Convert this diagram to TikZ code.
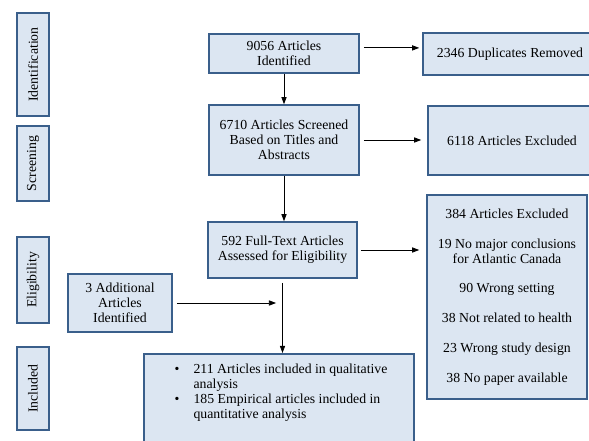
\documentclass[tikz,border=0pt]{standalone}
\usepackage{fontspec}
\setmainfont{Liberation Serif}
\usepackage{xcolor}
\usepackage{tikz}
\usetikzlibrary{positioning,arrows.meta,calc}
\definecolor{boxfill}{HTML}{DCE6F2}
\definecolor{boxline}{HTML}{3A5F8B}

\begin{document}
\begin{tikzpicture}[
    box/.style={draw=boxline, line width=1.1pt, fill=boxfill, align=center, inner sep=2pt,
      font=\fontsize{9.8pt}{10.6pt}\selectfont},
    stage/.style={box, rotate=90, minimum height=0.8cm},
    arrow/.style={-{Triangle[length=1.8mm,width=1.3mm]}, line width=0.6pt},
  ]
  \useasboundingbox (0,0) rectangle (14.725,-11);

  % Stages
  \node[stage, minimum width=2.575cm] (sid) at (0.825,-1.6125) {Identification};
  \node[stage, minimum width=1.875cm] (ssc) at (0.825,-4.0875) {Screening};
  \node[stage, minimum width=2.15cm] (sel) at (0.825,-7.0) {Eligibility};
  \node[stage, minimum width=2.075cm] (sin) at (0.825,-9.7125) {Included};

  % Identification
  \node[box, minimum width=3.75cm, minimum height=0.975cm] (ident) at (7.1,-1.3375) {%
    9056 Articles\\Identified};
  \node[box, minimum width=4.35cm, minimum height=1.05cm] (dup) at (12.75,-1.35) {%
    2346 Duplicates Removed};

  % Screening
  \node[box, minimum width=3.75cm, minimum height=1.75cm] (screen) at (7.1,-3.5) {%
    6710 Articles Screened\\Based on Titles and\\Abstracts};
  \node[box, minimum width=4.2cm, minimum height=1.725cm] (excl1) at (12.8,-3.5125) {%
    6118 Articles Excluded};

  % Eligibility
  \node[box, minimum width=3.725cm, minimum height=1.4cm] (elig) at (7.0625,-6.25) {%
    592 Full-Text Articles\\Assessed for Eligibility};
  \node[box, minimum width=4.0cm, minimum height=5.1cm] (excl2) at (12.675,-7.425) {%
    384 Articles Excluded\\[10.6pt]
    19 No major conclusions\\for Atlantic Canada\\[10.6pt]
    90 Wrong setting\\[10.6pt]
    38 Not related to health\\[10.6pt]
    23 Wrong study design\\[10.6pt]
    38 No paper available};
  \node[box, minimum width=2.6cm, minimum height=1.45cm] (add) at (3.0,-7.575) {%
    3 Additional\\Articles\\Identified};

  % Included
  \node[box, minimum width=6.75cm, minimum height=3cm, anchor=north] (incl) at (6.975,-8.825) {};
  \node[anchor=north west, inner sep=0pt, font=\fontsize{9.8pt}{10.6pt}\selectfont]
    (incltext) at ([xshift=0.78cm,yshift=-0.24cm]incl.north west) {%
    \begin{tabular}{@{}l@{\hspace{10pt}}l@{}}
      \textbullet & 211 Articles included in qualitative\\
                  & analysis\\
      \textbullet & 185 Empirical articles included in\\
                  & quantitative analysis
    \end{tabular}};

  % Arrows
  \coordinate (join) at (elig.south |- add.east);
  \draw[arrow, shorten <=1mm, shorten >=0.75mm] ([yshift=1.4mm]ident.east) -- ([yshift=1.4mm]ident.east -| dup.west);
  \draw[arrow] (ident.south) -- (ident.south |- screen.north);
  \draw[arrow, shorten <=1mm, shorten >=1.5mm] (screen.east) -- (screen.east -| excl1.west);
  \draw[arrow] (screen.south) -- (screen.south |- elig.north);
  \draw[arrow, shorten <=0.75mm, shorten >=1.75mm] (elig.east) -- (elig.east -| excl2.west);
  \draw[arrow, shorten <=1mm] (elig.south) -- (elig.south |- incl.north);
  \draw[arrow, shorten <=1mm, shorten >=1.6mm] (add.east) -- (join);
\end{tikzpicture}
\end{document}
